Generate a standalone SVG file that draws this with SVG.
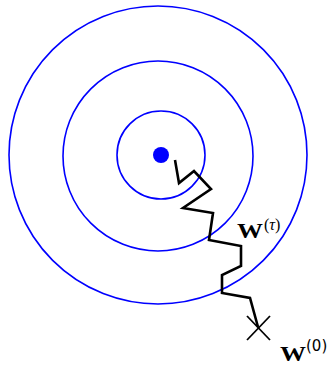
<svg xmlns="http://www.w3.org/2000/svg" width="335" height="367" viewBox="0 0 335 367">
<style>
.c{fill:none;stroke:#0000ff;stroke-width:1.6}
.p{fill:none;stroke:#000;stroke-width:2.6;stroke-linejoin:miter}
.w{font-family:"Liberation Serif",serif;font-weight:bold;font-size:22px}
.s{font-family:"Liberation Serif",serif;font-size:16px}
.s0{font-family:"DejaVu Sans",sans-serif;font-size:15px}
</style>
<g id="contours">
<circle class="c" cx="158" cy="155" r="149"/>
<circle class="c" cx="158" cy="156" r="95"/>
<circle class="c" cx="161" cy="155" r="44"/>
</g>
<g id="minimum"><circle cx="161" cy="155" r="8" fill="#0000ff"/></g>
<g id="connectors">
<polyline class="p" points="175,160 179,183 194,171 211,189 183,208 213,213 209,240 241,246 241,266 222,275 222,293 250,298 258,327"/>
</g>
<g id="start">
<line x1="247" y1="316" x2="270" y2="340" stroke="#000" stroke-width="1.8"/>
<line x1="270" y1="316" x2="247" y2="340" stroke="#000" stroke-width="1.8"/>
</g>
<g id="label-tau">
<text class="w" x="237" y="238" textLength="26" lengthAdjust="spacingAndGlyphs">W</text>
<text class="s" x="264" y="230">(<tspan font-style="italic">τ</tspan>)</text>
</g>
<g id="label-0">
<text class="w" x="280" y="361" textLength="26" lengthAdjust="spacingAndGlyphs">W</text>
<text class="s0" x="306" y="351">(0)</text>
</g>
</svg>
